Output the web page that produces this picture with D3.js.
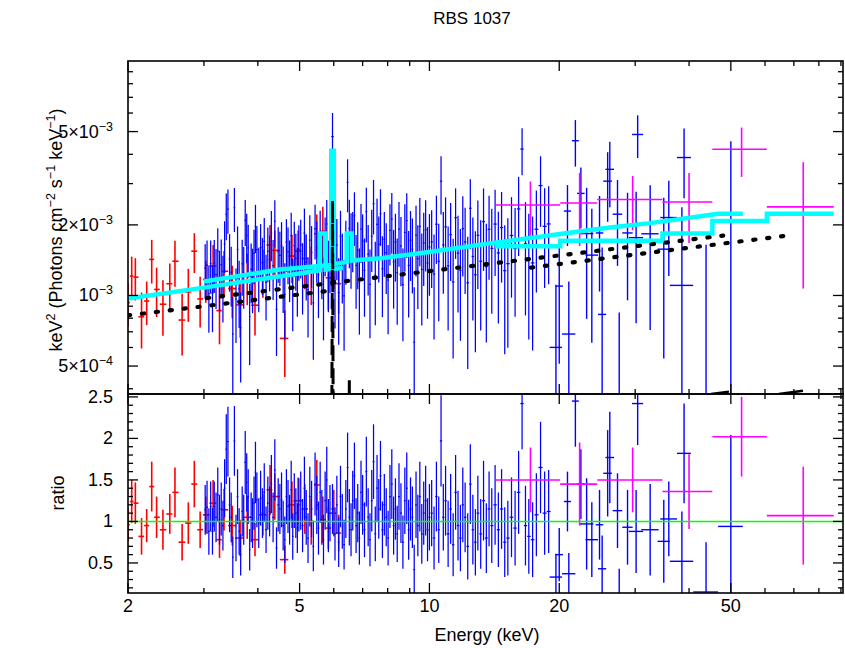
<!DOCTYPE html>
<html><head><meta charset="utf-8">
<script src="https://cdn.jsdelivr.net/npm/d3@7"></script>
<style>body{margin:0;background:#fff} svg{display:block} text{font-family:"Liberation Sans",Arial,Helvetica,sans-serif}</style>
</head><body><svg id="c" width="845" height="648"></svg>
<script>
// ---------------- DATA ----------------
const chartTitle = "RBS 1037";
// red instrument (ratio data)
const redE = [2.00,2.04,2.08,2.15,2.21,2.27,2.33,2.41,2.50,2.57,2.67,2.76,2.85,2.94,3.03,3.15,3.26,3.34,3.49,3.64,3.78,3.94,4.11,4.27,4.38,4.62,4.80,4.96,5.14,5.32,5.48,5.66,5.83,6.00,6.16];
const redR = [0.96,1.24,1.22,0.82,0.95,1.42,1.05,0.90,1.09,1.35,0.75,0.98,1.45,0.90,1.08,1.22,0.78,1.14,0.95,0.80,1.05,0.78,1.08,1.38,1.30,0.54,1.20,1.25,1.15,1.00,1.44,1.02,0.92,1.10,0.86];
const redErr = [0.20,0.26,0.25,0.22,0.20,0.30,0.25,0.24,0.24,0.30,0.22,0.25,0.28,0.22,0.22,0.28,0.22,0.25,0.24,0.22,0.26,0.20,0.25,0.30,0.28,0.17,0.28,0.28,0.30,0.28,0.30,0.28,0.25,0.28,0.22];
// blue instrument, narrow bins (3-19 keV)
const blueE = [3.02,3.05,3.08,3.11,3.14,3.17,3.20,3.23,3.26,3.29,3.32,3.35,3.38,3.41,3.44,3.47,3.50,3.53,3.56,3.59,3.62,3.65,3.68,3.71,3.74,3.77,3.80,3.83,3.86,3.89,3.92,3.95,3.98,
 4.02,4.06,4.10,4.14,4.18,4.22,4.26,4.30,4.34,4.38,4.42,4.46,4.50,4.54,4.58,4.62,4.66,4.70,4.74,4.78,4.82,4.86,4.90,4.94,4.98,
 5.03,5.08,5.13,5.18,5.23,5.28,5.33,5.38,5.43,5.48,5.53,5.58,5.63,5.68,5.73,5.78,5.83,5.88,5.96,6.04,6.10,6.16,6.22,6.28,6.34,6.40,6.46,6.52,6.58,6.64,6.70,6.76,6.82,6.88,6.94,7.00,
 7.07,7.14,7.21,7.28,7.35,7.42,7.49,7.56,7.63,7.70,7.78,7.86,7.94,8.02,8.10,8.18,8.26,8.34,8.42,8.50,8.59,8.68,8.77,8.86,8.95,9.04,9.13,9.22,9.31,9.40,9.50,9.60,9.70,9.80,9.90,10.00,
 10.12,10.25,10.38,10.51,10.64,10.77,10.90,11.05,11.20,11.35,11.50,11.65,11.80,11.95,12.10,12.27,12.44,12.61,12.78,12.95,13.15,13.35,13.55,13.75,13.95,14.20,14.45,14.70,14.95,15.20,15.50,15.80,16.10,16.40,16.70,17.00,17.35,17.70,18.10,18.50,18.90];
const blueR = [1.14,1.17,0.88,1.18,0.88,1.18,1.05,1.32,1.02,1.15,0.95,1.40,1.87,1.96,1.20,1.05,0.57,1.97,0.80,1.30,0.88,0.60,1.12,1.02,1.71,1.47,1.30,0.66,1.05,0.98,1.22,1.59,1.26,
 0.98,1.28,1.10,1.35,0.90,1.22,1.12,1.45,1.05,1.62,0.68,1.20,1.15,1.26,0.95,0.78,1.30,1.18,1.02,1.38,0.82,1.25,1.10,0.92,1.20,
 1.25,0.95,1.40,1.05,0.80,1.30,1.15,0.70,1.45,1.20,0.92,1.35,1.05,0.78,1.25,1.50,0.95,1.10,1.15,0.85,1.20,0.75,1.30,1.00,0.72,1.15,1.65,1.05,0.90,1.25,1.55,0.95,1.10,0.80,1.35,1.20,
 0.90,1.60,1.05,0.78,1.25,1.72,0.85,1.40,1.15,1.55,0.90,1.20,1.05,0.80,1.30,1.45,0.95,1.15,0.85,1.30,1.10,0.75,1.25,1.40,0.90,1.15,1.05,0.42,1.20,0.95,1.30,0.85,1.10,1.25,0.90,1.05,
 1.10,0.80,1.30,0.90,1.97,1.05,1.25,0.85,1.15,0.72,1.35,0.95,0.80,1.20,1.05,0.70,1.45,0.90,0.75,1.10,0.85,1.25,0.80,1.15,0.95,1.20,0.90,1.15,0.75,0.80,1.05,0.92,1.35,2.42,0.95,0.82,0.78,1.08,1.65,1.10,1.12];
const blueErr = [0.30,0.32,0.28,0.30,0.28,0.30,0.30,0.33,0.30,0.32,0.30,0.35,0.42,0.42,0.33,0.30,0.25,0.42,0.28,0.33,0.28,0.25,0.30,0.30,0.38,0.35,0.33,0.25,0.30,0.30,0.32,0.37,0.33,
 0.30,0.33,0.30,0.35,0.28,0.32,0.30,0.35,0.30,0.37,0.25,0.32,0.30,0.33,0.30,0.28,0.33,0.32,0.30,0.35,0.28,0.33,0.30,0.30,0.32,
 0.35,0.32,0.38,0.33,0.30,0.36,0.34,0.30,0.38,0.35,0.32,0.37,0.33,0.30,0.35,0.40,0.32,0.34,0.30,0.32,0.35,0.30,0.37,0.33,0.30,0.35,0.42,0.34,0.32,0.36,0.40,0.33,0.35,0.32,0.38,0.36,
 0.33,0.42,0.35,0.32,0.37,0.45,0.33,0.40,0.36,0.42,0.34,0.37,0.35,0.33,0.38,0.42,0.35,0.37,0.34,0.40,0.36,0.32,0.40,0.43,0.36,0.38,0.37,0.30,0.40,0.37,0.42,0.36,0.38,0.42,0.38,0.40,
 0.40,0.38,0.42,0.40,0.55,0.40,0.42,0.40,0.42,0.38,0.45,0.42,0.40,0.45,0.42,0.40,0.48,0.42,0.40,0.45,0.42,0.48,0.42,0.45,0.45,0.48,0.45,0.48,0.42,0.45,0.48,0.45,0.50,0.55,0.48,0.45,0.45,0.50,0.55,0.50,0.50];
// blue instrument, wide bins (19-53 keV)
const blueWLo = [19.0,19.6,20.3,20.5,21.4,22.0,22.3,23.0,24.3,24.6,25.3,25.6,26.6,26.0,28.0,29.0,29.5,31.0,33.8,34.3,36.1,37.5,40.9,46.7];
const blueWHi = [20.3,20.4,21.8,21.3,22.2,22.9,24.0,24.6,25.3,25.7,26.5,26.8,28.0,29.1,29.6,31.3,31.3,34.0,36.1,37.5,40.9,40.4,46.7,53.3];
const blueWR  = [0.33,0.60,0.37,1.24,2.45,1.45,0.97,0.78,0.96,0.43,1.58,1.77,1.13,0.08,0.93,0.88,2.42,0.90,0.76,1.03,0.52,1.82,0.15,0.94];
const blueWErr= [0.28,0.32,0.25,0.36,0.55,0.42,0.55,0.45,0.42,0.40,0.52,0.55,0.45,0.35,0.45,0.50,0.50,0.55,0.50,0.45,0.60,0.60,0.60,1.10];
// magenta instrument
const magLo = [14.2,20.1,24.5,34.7,45.3,60.6];
const magHi = [20.1,24.5,34.7,45.3,60.6,86.6];
const magR  = [1.50,1.45,1.50,1.36,2.02,1.07];
const magErr= [0.39,0.50,0.39,0.45,0.48,0.59];
// folded models (cyan), E in keV, keV^2 units
const redModelE = [2.0,3.0,4.0,5.0,5.57,5.57,5.745,5.745,6.3];
const redModelV = [0.971e-3,1.08e-3,1.17e-3,1.24e-3,1.28e-3,1.84e-3,1.84e-3,1.29e-3,1.31e-3];
const blueModelE = [3.0,4.5,5.92,5.92,6.00,6.00,6.43,6.43,6.61,6.61,7.7,9.9,14.2,20.1,26.2,32.1,40.5,46.7,53.3];
const blueModelV = [1.147e-3,1.29e-3,1.35e-3,4.14e-3,4.14e-3,1.36e-3,1.39e-3,1.84e-3,1.84e-3,1.41e-3,1.44e-3,1.53e-3,1.68e-3,1.83e-3,1.95e-3,2.03e-3,2.15e-3,2.23e-3,2.23e-3];
const magModelE = [14.2,20.1,20.1,34.7,34.7,45.3,45.3,60.6,60.6,86.6];
const magModelV = [1.62e-3,1.62e-3,1.71e-3,1.71e-3,1.84e-3,1.84e-3,2.08e-3,2.08e-3,2.23e-3,2.23e-3];
// model components (black)
const redContE = [2.0,3.0,4.5,5.8];
const redContV = [0.822e-3,0.900e-3,0.987e-3,1.045e-3];
const blueContE = [3.05,6,12,24,48];
const blueContV = [0.975e-3,1.134e-3,1.323e-3,1.543e-3,1.80e-3];
const magContE = [17.2,35,70.4];
const magContV = [1.315e-3,1.549e-3,1.818e-3];
const feLineE = [5.88,5.96,6.04];
const feLineV = [1e-6,2.54e-3,1e-6];
const fe2LineE = [6.46,6.52,6.58];
const fe2LineV = [1e-6,4.4e-4,1e-6];
const blueHiCompE = [45,49.5];
const blueHiCompV = [3.80e-4,3.89e-4];
const magHiCompE = [64.6,73.5];
const magHiCompV = [3.80e-4,3.92e-4];
// ticks
const xMajor = [2,5,10,20,50];
const xLabels = ["2","5","10","20","50"];
const xMinor = [3,4,6,7,8,9,30,40,60,70,80,90];
const yTopMajor = [5e-4,1e-3,2e-3,5e-3];
const yTopMant = ["5×10","10","2×10","5×10"];
const yTopExp = ["−4","−3","−3","−3"];
const yTopMinor = [4e-4,6e-4,7e-4,8e-4,9e-4,3e-3,4e-3,6e-3,7e-3,8e-3,9e-3];
const yBotMajor = [0.5,1,1.5,2,2.5];
const yBotLabels = ["0.5","1","1.5","2","2.5"];
const yBotMinor = [0.2,0.3,0.4,0.6,0.7,0.8,0.9,1.1,1.2,1.3,1.4,1.6,1.7,1.8,1.9,2.1,2.2,2.3,2.4];

// ---------------- LAYOUT ----------------
const L=128,R=843,T1=61,B1=394,T2=394,B2=593;
const x=d3.scaleLog().domain([2,91]).range([L,R]);
const yT=d3.scaleLog().domain([3.8e-4,1e-2]).range([B1,T1]);
const yB=d3.scaleLinear().domain([0.138,2.535]).range([B2,T2]);

const svg=d3.select('#c');
const defs=svg.append('defs');
defs.append('clipPath').attr('id','clipT').append('rect').attr('x',L).attr('y',T1).attr('width',R-L).attr('height',B1-T1);
defs.append('clipPath').attr('id','clipB').append('rect').attr('x',L).attr('y',T2).attr('width',R-L).attr('height',B2-T2);
const gT=svg.append('g').attr('clip-path','url(#clipT)');
const gB=svg.append('g').attr('clip-path','url(#clipB)');

function modelAt(E,V,e){
  const i=d3.bisectRight(E,e);
  if(i<=0) return V[0];
  if(i>=E.length) return V[V.length-1];
  const e0=E[i-1],e1=E[i];
  if(e1===e0) return V[i];
  const t=Math.log(e/e0)/Math.log(e1/e0);
  return V[i-1]*Math.pow(V[i]/V[i-1],t);
}
function centerBins(E){
  return E.map((e,i)=>{
    const p=i>0?E[i-1]:e*e/E[i+1];
    const n=i<E.length-1?E[i+1]:e*e/E[i-1];
    return {c:e,lo:Math.sqrt(p*e),hi:Math.sqrt(e*n)};
  });
}
function drawData(pts,color,sw){
  const fl=v=>Math.max(v,1e-7);
  pts.forEach(p=>{
    const xc=x(p.c),xl=x(p.lo),xh=x(p.hi),v=p.r*p.m;
    gT.append('line').attr('x1',xl).attr('x2',xh).attr('y1',yT(v)).attr('y2',yT(v)).attr('stroke',color).attr('stroke-width',sw);
    gT.append('line').attr('x1',xc).attr('x2',xc).attr('y1',yT(fl((p.r-p.err)*p.m))).attr('y2',yT((p.r+p.err)*p.m)).attr('stroke',color).attr('stroke-width',sw);
    gB.append('line').attr('x1',xl).attr('x2',xh).attr('y1',yB(p.r)).attr('y2',yB(p.r)).attr('stroke',color).attr('stroke-width',sw);
    gB.append('line').attr('x1',xc).attr('x2',xc).attr('y1',yB(p.r-p.err)).attr('y2',yB(p.r+p.err)).attr('stroke',color).attr('stroke-width',sw);
  });
}
// red
const redPts=centerBins(redE).map((b,i)=>({...b,r:redR[i],err:redErr[i],m:modelAt(redModelE,redModelV,b.c)}));
drawData(redPts,'#ff0000',1.6);
// blue
const bluePts=centerBins(blueE).map((b,i)=>({...b,r:blueR[i],err:blueErr[i],m:modelAt(blueModelE,blueModelV,b.c)}));
const blueWPts=blueWLo.map((lo,i)=>{const c=(lo+blueWHi[i])/2;return {c:c,lo:lo,hi:blueWHi[i],r:blueWR[i],err:blueWErr[i],m:modelAt(blueModelE,blueModelV,c)};});
drawData(bluePts.filter(p=>p.r!==undefined),'#0000ff',1.25);
drawData(blueWPts,'#0000ff',1.4);
// magenta
const magPts=magLo.map((lo,i)=>{const c=(lo+magHi[i])/2;return {c:c,lo:lo,hi:magHi[i],r:magR[i],err:magErr[i],m:modelAt(magModelE,magModelV,c)};});
drawData(magPts,'#ff00ff',1.6);

// models
const lineT=d3.line().x(d=>x(d[0])).y(d=>yT(d[1]));
[[redModelE,redModelV],[blueModelE,blueModelV],[magModelE,magModelV]].forEach(([E,V])=>{
  gT.append('path').datum(d3.zip(E,V)).attr('d',lineT).attr('fill','none').attr('stroke','#00ffff').attr('stroke-width',4.5);
});
[[redContE,redContV],[blueContE,blueContV],[magContE,magContV]].forEach(([E,V])=>{
  gT.append('path').datum(d3.zip(E,V)).attr('d',lineT).attr('fill','none').attr('stroke','#000').attr('stroke-width',4.2)
    .attr('stroke-linecap','round').attr('stroke-dasharray','2.2 11.8');
});
[[feLineE,feLineV],[fe2LineE,fe2LineV]].forEach(([E,V])=>{
  gT.append('path').datum(d3.zip(E,V)).attr('d',lineT).attr('fill','none').attr('stroke','#000').attr('stroke-width',3)
    .attr('stroke-dasharray','16 7');
});
[[blueHiCompE,blueHiCompV],[magHiCompE,magHiCompV]].forEach(([E,V])=>{
  gT.append('path').datum(d3.zip(E,V)).attr('d',lineT).attr('fill','none').attr('stroke','#000').attr('stroke-width',2.5);
});
// unity line
gB.append('line').attr('x1',L).attr('x2',R).attr('y1',yB(1)).attr('y2',yB(1)).attr('stroke','#00ff00').attr('stroke-width',1.5);

// ---------------- AXES ----------------
const ax=svg.append('g').attr('stroke','#000').attr('stroke-width',1.3);
[[T1,B1],[T2,B2]].forEach(([t,b])=>{
  ax.append('rect').attr('x',L).attr('y',t).attr('width',R-L).attr('height',b-t).attr('fill','none').attr('stroke-width',1.6);
  xMajor.forEach(v=>{ax.append('line').attr('x1',x(v)).attr('x2',x(v)).attr('y1',b).attr('y2',b-10);ax.append('line').attr('x1',x(v)).attr('x2',x(v)).attr('y1',t).attr('y2',t+10);});
  xMinor.forEach(v=>{ax.append('line').attr('x1',x(v)).attr('x2',x(v)).attr('y1',b).attr('y2',b-5);ax.append('line').attr('x1',x(v)).attr('x2',x(v)).attr('y1',t).attr('y2',t+5);});
});
yTopMajor.forEach(v=>{ax.append('line').attr('x1',L).attr('x2',L+10).attr('y1',yT(v)).attr('y2',yT(v));ax.append('line').attr('x1',R).attr('x2',R-10).attr('y1',yT(v)).attr('y2',yT(v));});
yTopMinor.forEach(v=>{ax.append('line').attr('x1',L).attr('x2',L+5).attr('y1',yT(v)).attr('y2',yT(v));ax.append('line').attr('x1',R).attr('x2',R-5).attr('y1',yT(v)).attr('y2',yT(v));});
yBotMajor.forEach(v=>{ax.append('line').attr('x1',L).attr('x2',L+10).attr('y1',yB(v)).attr('y2',yB(v));ax.append('line').attr('x1',R).attr('x2',R-10).attr('y1',yB(v)).attr('y2',yB(v));});
yBotMinor.forEach(v=>{ax.append('line').attr('x1',L).attr('x2',L+5).attr('y1',yB(v)).attr('y2',yB(v));ax.append('line').attr('x1',R).attr('x2',R-5).attr('y1',yB(v)).attr('y2',yB(v));});

// labels
const tx=svg.append('g').attr('fill','#000');
xMajor.forEach((v,i)=>tx.append('text').attr('x',x(v)).attr('y',612).attr('text-anchor','middle').attr('font-size',18).text(xLabels[i]));
yTopMajor.forEach((v,i)=>{
  const t=tx.append('text').attr('x',113).attr('y',yT(v)+6).attr('text-anchor','end').attr('font-size',18);
  t.append('tspan').text(yTopMant[i]);
  t.append('tspan').attr('dy',-7).attr('font-size',12.5).text(yTopExp[i]);
});
yBotMajor.forEach((v,i)=>tx.append('text').attr('x',113).attr('y',yB(v)+6).attr('text-anchor','end').attr('font-size',18).text(yBotLabels[i]));
tx.append('text').attr('x',472).attr('y',24).attr('text-anchor','middle').attr('font-size',17).text(chartTitle);
tx.append('text').attr('x',487).attr('y',641).attr('text-anchor','middle').attr('font-size',18).text('Energy (keV)');
tx.append('text').attr('transform','translate(64,493) rotate(-90)').attr('text-anchor','middle').attr('font-size',18).text('ratio');
const yt=tx.append('text').attr('transform','translate(62,230) rotate(-90)').attr('text-anchor','middle').attr('font-size',18);
[['keV',0],['2',-7],[' (Photons cm',7],['−2',-7],[' s',7],['−1',-7],[' keV',7],['−1',-7],[')',7]].forEach(([s,dy],i)=>{
  const ts=yt.append('tspan').text(s);
  if(i>0) ts.attr('dy',dy);
  if(dy<0) ts.attr('font-size',12.5);
});
</script></body></html>
